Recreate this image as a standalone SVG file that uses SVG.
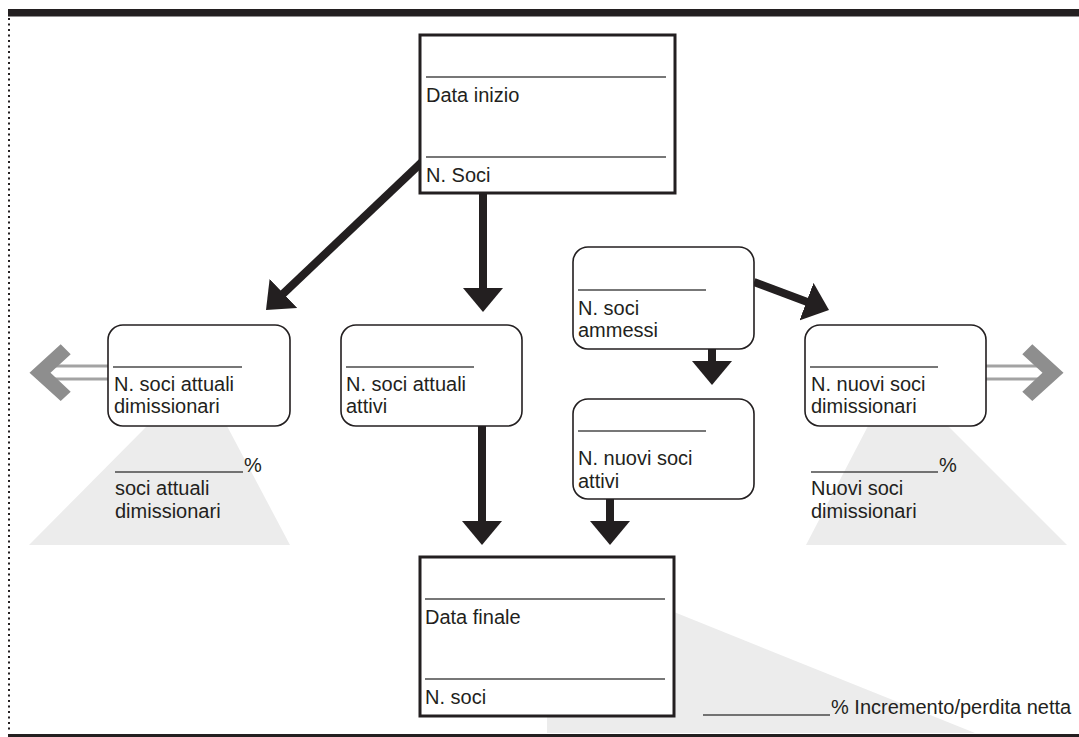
<svg xmlns="http://www.w3.org/2000/svg" width="1079" height="737" viewBox="0 0 1079 737">
<style>
text{font-family:"Liberation Sans",Arial,sans-serif;font-size:20px;fill:#231f20}
.sq{fill:#fff;stroke:#231f20;stroke-width:3}
.rd{fill:#fff;stroke:#231f20;stroke-width:1.6}
.ul{stroke:#4a4a4a;stroke-width:1.6;fill:none}
.sh{fill:#ececec}
.ar{stroke:#231f20;stroke-width:8;fill:none;marker-end:url(#head)}
.gl{stroke:#a3a3a3;stroke-width:3;fill:none}
.gc{fill:#8e8e8e}
</style>
<defs>
<marker id="head" markerUnits="userSpaceOnUse" markerWidth="24" markerHeight="40" viewBox="0 0 24 40" refX="8" refY="20" orient="auto">
<path d="M0,0 L24,20 L0,40 Z" fill="#231f20"/>
</marker>
</defs>
<rect width="1079" height="737" fill="#fff"/>
<!-- frame -->
<rect x="8" y="9" width="1071" height="7.5" fill="#231f20"/>
<line x1="9" y1="18" x2="9" y2="733" stroke="#231f20" stroke-width="2" stroke-dasharray="2 3.5"/>
<rect x="8" y="734" width="1071" height="3" fill="#231f20"/>
<!-- shadows -->
<polygon class="sh" points="147,426 227,426 290,545 29,545"/>
<polygon class="sh" points="868,426 948,426 1067,545 806,545"/>
<polygon class="sh" points="547,733 547,612 674,612 975,733"/>
<!-- gray exit arrows -->
<g id="exit-left">
<line class="gl" x1="55" y1="366" x2="108" y2="366"/>
<line class="gl" x1="55" y1="379" x2="108" y2="379"/>
<polygon class="gc" points="29.5,372.7 60.7,344.3 70.7,354.3 50.5,372.7 70.7,391.7 60.7,401"/>
</g>
<g id="exit-right">
<line class="gl" x1="986" y1="366" x2="1038" y2="366"/>
<line class="gl" x1="986" y1="379" x2="1038" y2="379"/>
<polygon class="gc" points="1063.5,372.7 1032.3,344.3 1022.3,354.3 1042.5,372.7 1022.3,391.7 1032.3,401"/>
</g>
<!-- connectors -->
<g id="connectors">
<line class="ar" x1="422" y1="162" x2="277.6" y2="299"/>
<line class="ar" x1="483" y1="193" x2="483" y2="296"/>
<line class="ar" x1="482" y1="426" x2="482" y2="529"/>
<line class="ar" x1="712" y1="349" x2="712" y2="369"/>
<line class="ar" x1="610" y1="499" x2="610" y2="529"/>
<line class="ar" x1="754" y1="282" x2="814" y2="304.4"/>
</g>
<!-- nodes -->
<g id="start">
<rect class="sq" x="420" y="35" width="255" height="158"/>
<line class="ul" x1="426" y1="77" x2="666" y2="77"/>
<text x="426" y="102">Data inizio</text>
<line class="ul" x1="426" y1="157" x2="666" y2="157"/>
<text x="426" y="182">N. Soci</text>
</g>
<g id="current-resigned">
<rect class="rd" x="108" y="325" width="182" height="101" rx="15"/>
<line class="ul" x1="113" y1="367" x2="242" y2="367"/>
<text x="114" y="391">N. soci attuali</text>
<text x="114" y="413">dimissionari</text>
</g>
<g id="current-active">
<rect class="rd" x="341" y="325" width="181" height="101" rx="15"/>
<line class="ul" x1="346" y1="367" x2="474" y2="367"/>
<text x="346" y="391">N. soci attuali</text>
<text x="346" y="413">attivi</text>
</g>
<g id="admitted">
<rect class="rd" x="573" y="247" width="181" height="102" rx="15"/>
<line class="ul" x1="578" y1="290" x2="706" y2="290"/>
<text x="578" y="315">N. soci</text>
<text x="578" y="337">ammessi</text>
</g>
<g id="new-active">
<rect class="rd" x="573" y="399" width="181" height="100" rx="15"/>
<line class="ul" x1="578" y1="431" x2="706" y2="431"/>
<text x="578" y="465">N. nuovi soci</text>
<text x="578" y="488">attivi</text>
</g>
<g id="new-resigned">
<rect class="rd" x="805" y="325" width="181" height="101" rx="15"/>
<line class="ul" x1="810" y1="367" x2="938" y2="367"/>
<text x="811" y="391">N. nuovi soci</text>
<text x="811" y="413">dimissionari</text>
</g>
<g id="end">
<rect class="sq" x="420" y="557" width="254" height="159"/>
<line class="ul" x1="425" y1="599" x2="665" y2="599"/>
<text x="425" y="624">Data finale</text>
<line class="ul" x1="425" y1="679" x2="665" y2="679"/>
<text x="425" y="704">N. soci</text>
</g>
<!-- percentages -->
<g id="pct-current">
<line class="ul" x1="115" y1="472" x2="243" y2="472"/>
<text x="244" y="472">%</text>
<text x="115" y="495">soci attuali</text>
<text x="115" y="518">dimissionari</text>
</g>
<g id="pct-new">
<line class="ul" x1="811" y1="472" x2="938" y2="472"/>
<text x="939" y="472">%</text>
<text x="811" y="495">Nuovi soci</text>
<text x="811" y="518">dimissionari</text>
</g>
<g id="pct-net">
<line class="ul" x1="703" y1="715" x2="830" y2="715"/>
<text x="831" y="714">% Incremento/perdita netta</text>
</g>
</svg>
